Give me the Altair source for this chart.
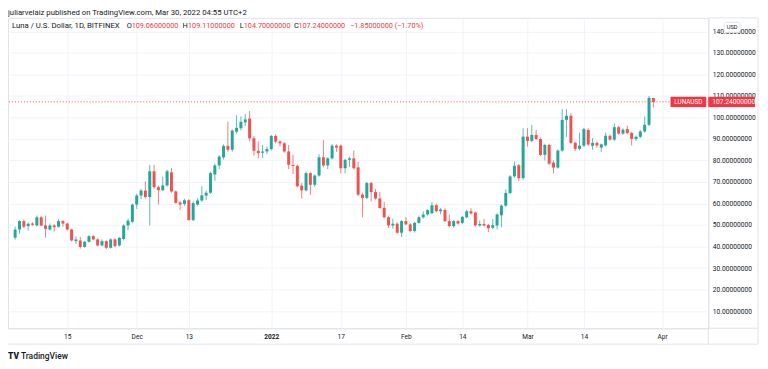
import altair as alt
import pandas as pd

# ---------------- data ----------------
dates = pd.date_range("2021-11-03", "2022-03-30", freq="D").strftime("%Y-%m-%d").tolist()

open_ = [44.1, 47.9, 51.8, 49.5, 50.7, 49.8, 53.6, 49.8, 47.9, 49.8,
         49.2, 51.8, 50.7, 47.9, 42.5, 42.8, 39.8, 42.2, 44.8, 43.3,
         40.5, 42.5, 39.4, 43.3, 40.5, 43.5, 49.8, 51.5, 59.5, 63.7,
         66.0, 63.0, 75.0, 67.6, 66.2, 68.4, 74.5, 65.6, 60.5, 59.8,
         61.5, 52.3, 59.5, 61.4, 63.7, 65.0, 73.5, 77.7, 81.5, 86.8,
         85.0, 93.4, 95.0, 97.7, 99.5, 90.3, 84.5, 83.6, 84.2, 85.3,
         91.4, 88.8, 88.0, 84.2, 78.0, 77.5, 68.3, 66.1, 74.1, 68.7,
         73.0, 81.5, 77.7, 81.0, 86.9, 86.9, 76.4, 80.3, 81.0, 76.8,
         64.1, 62.6, 69.5, 65.3, 62.3, 58.0, 53.6, 49.8, 50.6, 46.4,
         51.8, 50.3, 47.2, 51.0, 53.6, 54.9, 55.5, 59.2, 56.4, 57.0,
         51.8, 49.5, 51.8, 51.0, 53.6, 56.4, 55.8, 49.8, 50.5, 50.0,
         48.7, 49.8, 54.5, 59.0, 64.9, 72.6, 77.8, 71.8, 91.1, 89.1,
         91.9, 90.0, 82.6, 87.2, 79.0, 76.7, 84.6, 98.9, 100.8, 88.2,
         85.4, 86.9, 94.2, 86.8, 88.2, 86.0, 87.0, 91.5, 89.7, 95.5,
         92.5, 94.6, 92.8, 90.0, 91.0, 93.5, 96.6, 109.06]

high = [49.3, 52.3, 52.6, 51.2, 51.3, 54.4, 54.2, 54.4, 50.7, 50.4,
        52.8, 52.2, 51.1, 48.3, 44.8, 44.5, 42.6, 45.3, 45.4, 43.8,
        43.3, 42.9, 43.8, 43.9, 44.5, 50.3, 53.0, 60.0, 64.5, 66.8,
        70.3, 78.0, 78.0, 68.3, 72.4, 75.8, 76.5, 66.2, 61.1, 62.2,
        62.0, 61.0, 62.5, 68.0, 66.0, 74.8, 78.5, 82.5, 87.5, 98.0,
        94.5, 101.0, 100.5, 101.6, 103.0, 91.5, 89.0, 87.2, 86.5, 91.9,
        92.1, 89.4, 88.6, 87.2, 82.6, 78.0, 69.5, 74.8, 74.6, 73.5,
        82.9, 89.5, 81.6, 87.6, 87.5, 87.4, 80.8, 81.8, 84.6, 79.5,
        65.0, 70.0, 70.0, 66.7, 65.5, 60.7, 54.3, 53.0, 51.2, 52.3,
        53.7, 51.0, 51.5, 54.4, 56.4, 57.3, 60.7, 59.9, 58.0, 57.8,
        54.8, 52.3, 52.3, 54.3, 57.0, 57.8, 56.3, 52.0, 52.8, 50.5,
        52.8, 55.4, 59.6, 66.5, 73.2, 79.5, 78.4, 95.0, 95.0, 96.5,
        94.2, 90.6, 87.8, 87.8, 80.0, 85.2, 103.9, 103.9, 101.9, 88.8,
        93.0, 95.2, 95.0, 90.5, 88.8, 87.9, 93.0, 92.1, 97.3, 96.1,
        95.0, 96.2, 93.4, 91.6, 94.1, 100.5, 110.0, 109.11]

low = [43.2, 45.9, 48.6, 47.3, 49.6, 49.3, 49.4, 44.1, 47.4, 47.0,
       48.8, 49.2, 47.5, 42.4, 41.2, 39.0, 39.4, 41.8, 42.9, 40.0,
       40.1, 38.9, 39.0, 39.6, 40.0, 42.8, 47.6, 50.8, 57.5, 62.0,
       62.3, 49.8, 66.8, 59.5, 65.8, 67.9, 65.0, 60.0, 57.0, 58.9,
       52.0, 51.8, 59.0, 60.8, 61.5, 64.5, 70.5, 76.0, 80.5, 84.0,
       84.1, 92.5, 94.0, 96.0, 89.0, 82.3, 81.0, 81.1, 83.0, 84.6,
       88.0, 86.5, 83.6, 76.0, 73.7, 67.5, 62.3, 65.6, 64.0, 67.8,
       72.4, 76.8, 76.0, 80.4, 84.0, 74.0, 74.0, 77.0, 75.8, 63.5,
       53.6, 62.0, 61.0, 61.8, 57.5, 53.0, 48.6, 48.2, 46.0, 44.4,
       50.0, 46.9, 46.5, 50.6, 53.0, 54.3, 55.0, 55.9, 55.0, 51.5,
       49.0, 48.7, 50.2, 50.4, 53.1, 54.9, 49.3, 49.2, 49.3, 46.7,
       48.1, 48.0, 49.0, 58.4, 64.3, 72.0, 70.5, 70.9, 86.5, 88.5,
       89.5, 82.0, 80.0, 78.0, 74.0, 76.2, 84.0, 91.0, 87.6, 84.4,
       84.8, 86.3, 86.8, 85.0, 86.0, 84.0, 86.5, 89.2, 89.1, 91.9,
       91.9, 92.2, 87.0, 89.0, 90.4, 92.9, 96.0, 104.7]

close = [47.9, 51.8, 49.2, 50.6, 50.1, 53.6, 49.8, 48.2, 49.8, 49.0,
         51.8, 50.7, 47.9, 42.8, 43.3, 39.8, 42.2, 44.8, 43.3, 40.5,
         42.5, 39.4, 43.3, 40.2, 44.0, 49.8, 52.0, 59.5, 63.7, 66.0,
         63.0, 75.0, 67.6, 66.2, 68.4, 75.0, 65.6, 60.3, 59.5, 61.5,
         52.3, 60.2, 61.4, 63.8, 65.0, 74.1, 77.7, 81.8, 86.8, 85.0,
         93.9, 95.2, 98.0, 99.1, 90.3, 84.5, 83.4, 84.2, 85.3, 91.4,
         88.8, 88.0, 84.2, 78.0, 77.5, 68.0, 66.1, 74.1, 68.7, 73.0,
         81.5, 77.7, 81.0, 86.9, 86.0, 76.4, 80.3, 81.0, 76.4, 64.1,
         62.6, 69.5, 65.3, 62.3, 57.9, 53.6, 49.8, 50.6, 46.4, 51.8,
         50.3, 47.2, 51.0, 53.6, 54.9, 56.9, 59.2, 56.4, 57.2, 51.8,
         49.5, 51.8, 50.7, 53.8, 56.4, 55.4, 49.8, 50.5, 49.8, 48.5,
         49.9, 54.9, 59.0, 64.9, 72.6, 77.5, 71.8, 91.1, 89.1, 91.9,
         90.0, 82.6, 87.2, 78.5, 76.7, 84.6, 98.9, 100.8, 88.2, 85.4,
         86.9, 94.6, 87.4, 88.2, 87.0, 87.5, 91.5, 89.7, 95.5, 92.5,
         94.3, 92.8, 90.0, 91.0, 93.5, 96.6, 109.09, 107.24]

last_price = [107.24]
y_ticks = [10, 20, 30, 40, 50, 60, 70, 80, 90, 100, 110, 120, 130, 140]
x_ticks = [(2021, 11, 15), (2021, 12, 1), (2021, 12, 13), (2022, 1, 1), (2022, 1, 17),
           (2022, 2, 1), (2022, 2, 14), (2022, 3, 1), (2022, 3, 14), (2022, 4, 1)]

header_text = "juliarvelaiz published on TradingView.com, Mar 30, 2022 04:55 UTC+2"
# (text, colour, x position, font size)
legend_parts = [
    ("Luna / U.S. Dollar, 1D, BITFINEX", "#131722", 4, 7.8),
    ("O", "#131722", 119.5, 7.5), ("109.06000000", "#f23645", 124.3, 7.3),
    ("H", "#131722", 175.5, 7.5), ("109.11000000", "#f23645", 181, 7.3),
    ("L", "#131722", 233, 7.5), ("104.70000000", "#f23645", 237, 7.3),
    ("C", "#131722", 287.5, 7.5), ("107.24000000", "#f23645", 292, 7.3),
    ("\u22121.85000000 (\u22121.70%)", "#f23645", 344, 7.3),
]

# ---------------- styling ----------------
GREEN = "#26a69a"
RED = "#ef5350"
LABEL_RED = "#f23645"
TXT = "#131722"
GRID = "#f0f3fa"
FRAME = "#e0e3eb"
FONT = "Roboto"

df = pd.DataFrame({"date": dates, "open": open_, "high": high, "low": low, "close": close})
df["dir"] = ["up" if c >= o else "down" for o, c in zip(open_, close)]

x_scale = alt.Scale(type="utc",
                    domain=[alt.DateTime(year=2021, month=11, date=2, hours=12, utc=True),
                            alt.DateTime(year=2022, month=4, date=10, hours=12, utc=True)])
y_scale = alt.Scale(domain=[2.0, 146.3], nice=False, zero=False)

x_axis = alt.Axis(
    title=None,
    values=[alt.DateTime(year=a, month=b, date=c, utc=True) for a, b, c in x_ticks],
    labelExpr=("utcdate(datum.value) == 1 ? (utcmonth(datum.value) == 0 ? utcFormat(datum.value, '%Y') "
               ": utcFormat(datum.value, '%b')) : toString(utcdate(datum.value))"),
    labelFontWeight={"condition": {"test": "utcmonth(datum.value) == 0 && utcdate(datum.value) == 1",
                                   "value": "bold"}, "value": "normal"},
    grid=True, gridColor=GRID, gridWidth=1,
    ticks=False, domain=True, domainColor=FRAME,
    labelFont=FONT, labelFontSize=6.6, labelColor=TXT, labelPadding=5,
    labelFlush=False,
)
y_axis = alt.Axis(
    title=None, orient="right", values=y_ticks, format=".8f",
    grid=True, gridColor=GRID, gridWidth=1,
    ticks=False, domain=True, domainColor=FRAME,
    labelFont=FONT, labelFontSize=6.7, labelColor=TXT, labelPadding=4, labelAlign="left",
)

color = alt.Color("dir:N", scale=alt.Scale(domain=["up", "down"], range=[GREEN, RED]), legend=None)

base = alt.Chart(df)
wicks = base.mark_rule(strokeWidth=1, opacity=0.75).encode(
    x=alt.X("date:T", scale=x_scale, axis=x_axis),
    y=alt.Y("low:Q", scale=y_scale, axis=y_axis),
    y2="high:Q",
    color=color,
)
bodies = base.mark_bar(size=3).encode(
    x=alt.X("date:T", scale=x_scale, axis=x_axis),
    y=alt.Y("open:Q", scale=y_scale, axis=y_axis),
    y2="close:Q",
    color=color,
)

lp = pd.DataFrame({"p": last_price, "t": ["%.8f" % last_price[0]], "s": ["LUNAUSD"]})
price_line = alt.Chart(lp).mark_rule(color=RED, strokeDash=[1, 2], strokeWidth=1).encode(
    y=alt.Y("p:Q", scale=y_scale, axis=y_axis)
)
price_box = alt.Chart(lp).mark_rect(color=LABEL_RED, yOffset=-5.2, y2Offset=5.2).encode(
    x=alt.value(704), x2=alt.value(751),
    y=alt.Y("p:Q", scale=y_scale, axis=y_axis), y2="p:Q",
)
price_txt = alt.Chart(lp).mark_text(color="white", font=FONT, fontSize=6.7, align="left",
                                    baseline="middle").encode(
    x=alt.value(708), y=alt.Y("p:Q", scale=y_scale, axis=y_axis), text="t:N"
)
sym_box = alt.Chart(lp).mark_rect(color=LABEL_RED, yOffset=-5.2, y2Offset=5.2, cornerRadius=1).encode(
    x=alt.value(666), x2=alt.value(702),
    y=alt.Y("p:Q", scale=y_scale, axis=y_axis), y2="p:Q",
)
sym_txt = alt.Chart(lp).mark_text(color="white", font=FONT, fontSize=6.4, align="center",
                                  baseline="middle").encode(
    x=alt.value(684), y=alt.Y("p:Q", scale=y_scale, axis=y_axis), text="s:N"
)

# header and legend
hdr = alt.Chart(pd.DataFrame({"t": [header_text]})).mark_text(
    font=FONT, fontSize=7.8, color=TXT, align="left", baseline="alphabetic").encode(
    x=alt.value(0), y=alt.value(-3), text="t:N")

legend_layers = []
for txt, col, xpos, fs in legend_parts:
    legend_layers.append(
        alt.Chart(pd.DataFrame({"t": [txt]})).mark_text(
            font=FONT, fontSize=fs, color=col, align="left", baseline="middle").encode(
            x=alt.value(xpos), y=alt.value(8), text="t:N"))

# USD badge
usd_box = alt.Chart(pd.DataFrame({"t": ["USD"]})).mark_rect(
    fill="white", stroke=FRAME, strokeWidth=1, cornerRadius=2).encode(
    x=alt.value(720), x2=alt.value(736), y=alt.value(4.5), y2=alt.value(14.5))
usd_txt = alt.Chart(pd.DataFrame({"t": ["USD"]})).mark_text(
    font=FONT, fontSize=5.8, color=TXT, align="center", baseline="middle").encode(
    x=alt.value(728), y=alt.value(9.5), text="t:N")

# frame pieces outside plot
fr = pd.DataFrame({"k": [0]})
frame_layers = [
    alt.Chart(fr).mark_rule(color=FRAME).encode(x=alt.value(754), y=alt.value(0), y2=alt.value(328)),
    alt.Chart(fr).mark_rule(color=FRAME).encode(x=alt.value(0), x2=alt.value(754), y=alt.value(328)),
    alt.Chart(fr).mark_rule(color=FRAME).encode(x=alt.value(704), y=alt.value(312), y2=alt.value(328)),
    alt.Chart(fr).mark_rule(color=FRAME).encode(x=alt.value(704), x2=alt.value(754), y=alt.value(312)),
    alt.Chart(fr).mark_rule(color=FRAME).encode(x=alt.value(704), x2=alt.value(754), y=alt.value(0)),
]

# footer
logo = alt.Chart(pd.DataFrame({"t": ["TV"]})).mark_text(
    font=FONT, fontSize=8.5, fontWeight=900, color=TXT, align="left", baseline="middle").encode(
    x=alt.value(0), y=alt.value(340), text="t:N")
brand = alt.Chart(pd.DataFrame({"t": ["TradingView"]})).mark_text(
    font=FONT, fontSize=8.5, fontWeight=500, color=TXT, align="left", baseline="middle").encode(
    x=alt.value(13), y=alt.value(340), text="t:N")

chart = alt.layer(
    wicks, bodies, price_line, *frame_layers, sym_box, sym_txt, price_box, price_txt,
    hdr, *legend_layers, usd_box, usd_txt, logo, brand
).properties(
    width=704, height=312,
    autosize=alt.AutoSizeParams(type="none"),
    padding={"left": 0, "top": 9, "right": 52, "bottom": 36},
    background="white",
).configure_view(stroke=FRAME, strokeWidth=1)

chart.save("out.html", embed_options={"renderer": "svg", "actions": False})
